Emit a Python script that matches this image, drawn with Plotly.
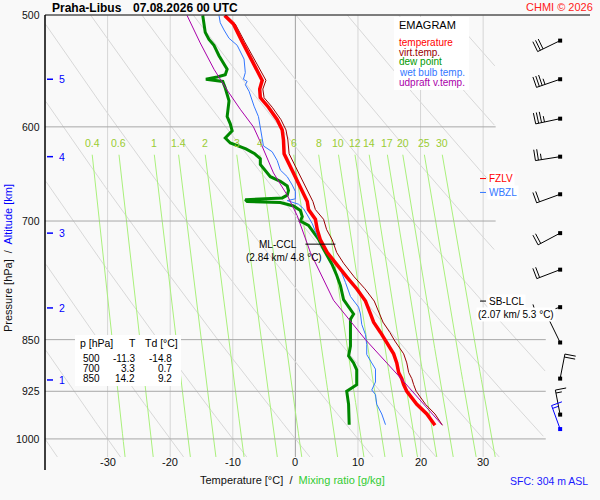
import math
import numpy as np
import plotly.graph_objects as go

# sounding Praha-Libus 07.08.2026 00 UTC
p_temp = [500, 507, 522, 538, 552, 556, 564, 572, 581, 593, 603, 613, 627, 640, 652, 667, 678, 687,
          698, 710, 722, 737, 750, 767, 782, 798, 815, 826, 840, 852, 870, 883, 897, 906, 915, 925,
          945, 960, 978]
temp = [-11.3, -9.9, -8.5, -6.9, -5.6, -5.3, -5.7, -5.6, -4.3, -2.9, -2.1, -1.9, -1.8, -0.8, 0.0, 1.1,
        1.9, 2.1, 3.2, 3.5, 4.0, 5.1, 6.4, 8.2, 9.8, 11.2, 12.0, 12.5, 13.6, 14.4, 15.7, 16.2, 16.5,
        17.0, 17.3, 17.8, 19.4, 21.0, 22.3]
tvirt = [-11.0, -9.6, -8.1, -6.5, -5.1, -4.7, -5.2, -5.0, -3.7, -2.3, -1.5, -1.2, -1.0, 0.0, 0.8, 1.9,
         2.8, 3.2, 4.5, 5.0, 5.9, 6.6, 7.7, 9.4, 11.1, 12.6, 13.5, 14.0, 15.1, 15.9, 17.3, 17.8, 18.1,
         18.6, 18.9, 19.3, 20.8, 22.3, 23.5]

p_dew = [500, 507, 514, 520, 525, 534, 541, 546, 551, 553, 555, 557, 563, 575, 590, 597, 604, 611,
         616, 622, 627, 632, 638, 644, 651, 656, 661, 666, 671, 674, 676, 678, 679, 683, 688, 695,
         700, 705, 713, 721, 733, 740, 752, 765, 778, 796, 806, 815, 822, 840, 859, 873, 883, 893,
         915, 920, 925, 945, 960, 977]
dew = [-14.8, -14.6, -14.4, -13.8, -13.0, -12.2, -11.4, -10.9, -11.2, -12.5, -14.3, -11.6, -11.2,
       -10.6, -10.9, -10.4, -10.1, -11.2, -10.4, -7.9, -6.5, -5.6, -5.6, -4.8, -4.0, -2.4, -1.3, -1.1,
       -1.3, -2.1, -8.0, -7.7, -2.4, -0.3, 0.8, 1.1, 0.8, 2.1, 2.9, 3.7, 4.5, 5.0, 5.9, 6.6, 7.2, 7.7,
       8.5, 9.3, 8.8, 8.8, 8.8, 8.5, 9.3, 9.8, 9.8, 9.0, 8.2, 8.5, 8.5, 8.6]

p_wet = [500, 506, 512, 519, 525, 537, 549, 555, 557, 560, 566, 580, 590, 600, 612, 619, 625, 634,
         644, 651, 660, 667, 675, 677, 681, 686, 693, 703, 712, 725, 737, 758, 774, 792, 806, 815,
         829, 843, 857, 871, 883, 892, 911, 923, 930, 945, 960, 977]
wet = [-12.2, -12.0, -11.4, -10.6, -9.3, -8.2, -8.0, -8.3, -7.7, -8.0, -7.4, -6.6, -5.9, -5.6, -5.3,
       -5.1, -3.7, -2.9, -2.4, -1.3, -0.5, 0.0, 0.0, -1.3, 0.5, 1.3, 1.9, 2.7, 3.2, 4.0, 5.0, 7.2, 8.0,
       8.8, 10.1, 10.4, 10.6, 11.2, 11.4, 11.4, 12.2, 12.8, 12.8, 12.2, 12.8, 13.0, 13.8, 14.4]

p_parcel = [500, 523, 546, 565, 583, 600, 615, 647, 671, 694, 737, 797, 850, 905, 977]
parcel = [-17.3, -15.2, -13.0, -10.9, -8.8, -6.7, -5.6, -3.5, -1.3, 0.3, 2.4, 6.1, 11.2, 16.8, 23.4]

# wind (hPa, deg, kt); last one is the surface wind
wind_p = [521, 555, 592, 630, 670, 714, 758, 806, 854, 906, 961]
wind_dir = [244, 251, 258, 261, 250, 242, 249, 252, 334, 11, 349]
wind_kt = [30, 35, 35, 25, 20, 20, 20, 10, 3, 20, 15]
sfc_p, sfc_dir, sfc_kt = 984, 340, 15

alt_km = [1, 2, 3, 4, 5]
alt_p = [908, 807, 714, 630, 555]

p_labels = [500, 600, 700, 850, 925, 1000]
isotherms = [-30, -20, -10, 0, 10, 20, 30]
t1000_adiabats = list(range(-40, 110, 10))
mix_ratios = [0.4, 0.6, 1, 1.4, 2, 3, 4, 6, 8, 10, 12, 14, 17, 20, 25, 30]

table_p = ["500", "700", "850"]
table_t = ["-11.3", "3.3", "14.2"]
table_td = ["-14.8", "0.7", "9.2"]

fzlv_p, wbzl_p, sblcl_p, mlccl_p = 653, 668, 798, 727
mlccl_t = 4.8

FONT = "Arial, Liberation Sans, sans-serif"
T_MIN, T_MAX = -40, 47.07
P_TOP, P_BOT = 499.6, 1052.2
BARB_T = 42.3
DEG_PX = 545 / (T_MAX - T_MIN)
LOGP_PX = (math.log10(P_BOT) - math.log10(P_TOP)) / 455


def px_x(px):
    return (px - 45) / 545


def px_y(py):
    return (470 - py) / 455


def t_mix(w, p):
    e = w * p / (622.0 + w)
    a = np.log(e / 6.112)
    return 243.5 * a / (17.67 - a)


fig = go.Figure()


def add_line(x, y, color, width):
    fig.add_trace(go.Scatter(x=x, y=y, mode="lines", line=dict(color=color, width=width),
                             hoverinfo="skip", showlegend=False, connectgaps=False))


# background diagram
for t in isotherms:
    add_line([t, t], [500, 1030], "#a0a0a0" if t == 0 else "#d6d6d6", 1)

p_grid = np.geomspace(500, 1030, 150)
for t0 in t1000_adiabats:
    t = (t0 + 273.15) * (p_grid / 1000) ** 0.2857 - 273.15
    tmax = np.where(p_grid < 810, 32, 40)
    t = np.where((t >= -40) & (t <= tmax), t, np.nan)
    add_line(t, p_grid, "#d8d8d8", 1)

p_mix = np.geomspace(628, 1030, 40)
for w in mix_ratios:
    add_line(t_mix(w, p_mix), p_mix, "#aaf07c", 1)

for p in p_labels[1:]:
    add_line([-40, 32 if p < 800 else 40], [p, p], "#a8a8a8", 1)

# sounding curves
add_line(dew, p_dew, "#008800", 3)
add_line(wet, p_wet, "#3377ff", 1)
add_line(tvirt, p_temp, "#990000", 1)
add_line(temp, p_temp, "#ff0000", 3.5)
add_line(parcel, p_parcel, "#aa00aa", 1)


# wind barbs, built in screen pixels around each level and mapped onto the axes
def barb_xy(p, d, spd):
    rad = math.radians(d)
    ux, uy = math.sin(rad), -math.cos(rad)   # screen coords, y down
    tx, ty = 25 * ux, 25 * uy
    segs = [(0, 0, tx, ty)]
    fx, fy = -uy, ux
    n_full, half = spd // 10, (spd % 10) >= 5
    for i in range(n_full):
        sx, sy = tx - 3 * i * ux, ty - 3 * i * uy
        segs.append((sx, sy, sx + 11 * fx, sy + 11 * fy))
    if half:
        sx, sy = tx - 3 * n_full * ux, ty - 3 * n_full * uy
        segs.append((sx, sy, sx + 6 * fx, sy + 6 * fy))
    xs, ys = [], []
    for x0, y0, x1, y1 in segs:
        xs += [BARB_T + x0 / DEG_PX, BARB_T + x1 / DEG_PX, None]
        ys += [p * 10 ** (y0 * LOGP_PX), p * 10 ** (y1 * LOGP_PX), None]
    return xs, ys


bx, by = [], []
for p, d, s in zip(wind_p, wind_dir, wind_kt):
    xs, ys = barb_xy(p, d, s)
    bx += xs
    by += ys
add_line(bx, by, "black", 1)
sx_, sy_ = barb_xy(sfc_p, sfc_dir, sfc_kt)
add_line(sx_, sy_, "#0000ff", 1)

fig.add_trace(go.Scatter(x=[BARB_T] * len(wind_p), y=wind_p, mode="markers",
                         marker=dict(symbol="square", size=4, color="black"),
                         hoverinfo="skip", showlegend=False))
fig.add_trace(go.Scatter(x=[BARB_T], y=[sfc_p], mode="markers",
                         marker=dict(symbol="square", size=4, color="#0000ff"),
                         hoverinfo="skip", showlegend=False))

shapes = []
# frame
shapes.append(dict(type="line", xref="paper", yref="paper", x0=0, x1=1, y0=1, y1=1,
                   line=dict(color="black", width=1)))
shapes.append(dict(type="line", xref="paper", yref="paper", x0=0, x1=0, y0=0, y1=1,
                   line=dict(color="black", width=1.5)))

# boxes
shapes.append(dict(type="rect", xref="paper", yref="paper", x0=px_x(394), x1=px_x(469),
                   y0=px_y(90), y1=px_y(17), fillcolor="white", line=dict(width=0), layer="above"))
shapes.append(dict(type="rect", xref="paper", yref="paper", x0=px_x(75), x1=px_x(181),
                   y0=px_y(386), y1=px_y(335), fillcolor="white", line=dict(width=0), layer="above"))

# level markers
for p, c in [(fzlv_p, "#ff0000"), (wbzl_p, "#3377ff"), (sblcl_p, "black")]:
    shapes.append(dict(type="line", xref="paper", yref="y", x0=px_x(480), x1=px_x(486),
                       y0=p, y1=p, line=dict(color=c, width=1)))
shapes.append(dict(type="line", xref="x", yref="y", x0=mlccl_t - 3.2, x1=mlccl_t + 1.6,
                   y0=mlccl_p, y1=mlccl_p, line=dict(color="black", width=1)))

for a, p in zip(alt_km, alt_p):
    shapes.append(dict(type="line", xref="paper", yref="y", x0=px_x(47), x1=px_x(53),
                       y0=p, y1=p, line=dict(color="#0000ff", width=1.5)))

ann = []


def text(x, y, s, size=11, color="black", xanchor="left", xref="paper", yref="paper", **kw):
    ann.append(dict(x=x, y=y, text=s, xref=xref, yref=yref, showarrow=False, xanchor=xanchor,
                    yanchor="middle", font=dict(family=FONT, size=size, color=color), **kw))


text(px_x(50), px_y(8), "<b>Praha-Libus</b>", 12)
text(px_x(131), px_y(8), "<b>07.08.2026 00 UTC</b>", 12)
text(px_x(595), px_y(7), "CHMI © 2026", 11, "#ff2020", "right")

for p in p_labels:
    text(px_x(42), math.log10(p), str(p), 10.5, "#111111", "right", yref="y")
for a, p in zip(alt_km, alt_p):
    text(px_x(57), math.log10(p), str(a), 10.5, "#0000ff", yref="y")
for t in isotherms:
    text(t, px_y(462), str(t), 11, "#111111", "center", xref="x")
for w in mix_ratios:
    text(float(t_mix(w, 628.0)), math.log10(616), f"{w:g}", 10.5, "#99cc33", "center",
         xref="x", yref="y")

text(px_x(8), px_y(258),
     "Pressure [hPa]\u00a0 /\u00a0 <span style='color:#0000ff'>Altitude [km]</span>",
     11, "#111111", "center", textangle=-90)
text(px_x(292), px_y(480),
     "Temperature [°C]\u00a0 /\u00a0 <span style='color:#33cc33'>Mixing ratio [g/kg]</span>",
     11, "#111111", "center")
text(px_x(590), px_y(481), "SFC: 304 m ASL", 10.5, "#1a1aff", "right")

text(px_x(397), px_y(25), "EMAGRAM", 11)
legend_items = [("temperature", "#ff0000"), ("virt.temp.", "#990000"), ("dew point", "#009900"),
                ("wet bulb temp.", "#3377ff"), ("udpraft v.temp.", "#aa00aa")]
for i, (s, c) in enumerate(legend_items):
    text(px_x(397), px_y(42 + 10 * i), s, 10, c)

text(px_x(78), px_y(343), "p [hPa]", 10.5)
text(px_x(127), px_y(343), "T", 10.5)
text(px_x(143), px_y(343), "Td [°C]", 10.5)
for i in range(3):
    yy = px_y(358 + 10 * i)
    text(px_x(102), yy, table_p[i], 10, xanchor="right")
    text(px_x(137), yy, table_t[i], 10, xanchor="right")
    text(px_x(174), yy, table_td[i], 10, xanchor="right")

text(px_x(487), math.log10(fzlv_p), "FZLV", 10, "#ff0000", yref="y", bgcolor="white")
text(px_x(487), math.log10(wbzl_p), "WBZL", 10, "#3377ff", yref="y", bgcolor="white")
text(px_x(487), math.log10(sblcl_p), "SB-LCL", 10, yref="y", bgcolor="white")
text(px_x(516), px_y(314), "(2.07 km/ 5.3 °C)", 10, xanchor="center", bgcolor="white")
text(px_x(278), math.log10(mlccl_p), "ML-CCL", 10, xanchor="center", yref="y")
text(px_x(284), px_y(257), "(2.84 km/ 4.8 °C)", 10, xanchor="center")

fig.update_layout(
    width=600, height=500,
    margin=dict(l=45, r=10, t=15, b=30),
    paper_bgcolor="#f9f9f9", plot_bgcolor="#f9f9f9",
    xaxis=dict(range=[T_MIN, T_MAX], visible=False),
    yaxis=dict(type="log", range=[math.log10(P_BOT), math.log10(P_TOP)], visible=False),
    shapes=shapes, annotations=ann, showlegend=False,
)

# drop the browser's default 8 px body margin so the figure sits at the page corner
fig.write_html("out.html", config={"displayModeBar": False},
               post_script="document.body.style.margin = '0px';")
